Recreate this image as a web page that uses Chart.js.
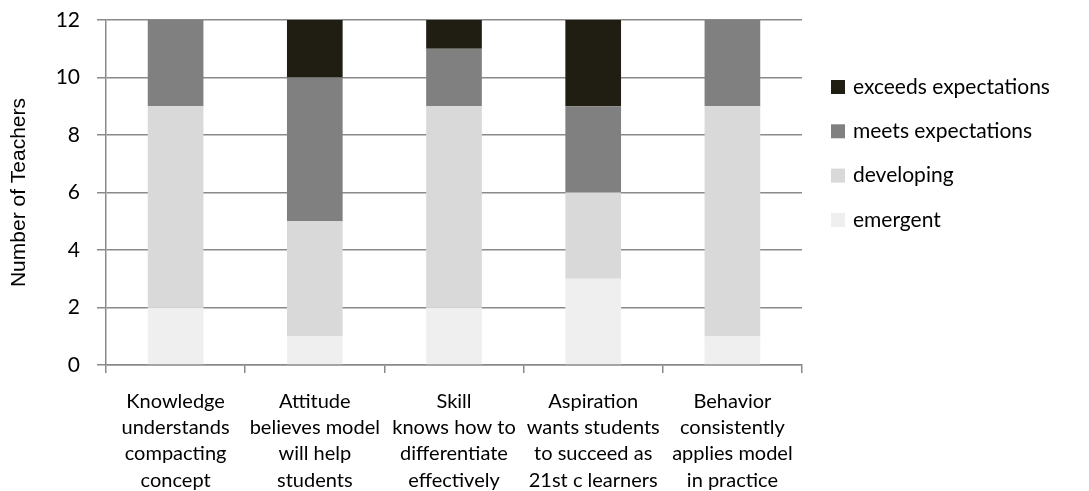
<!DOCTYPE html>
<html>
<head>
<meta charset="utf-8">
<script src="https://cdn.jsdelivr.net/npm/chart.js@4.4.0/dist/chart.umd.min.js"></script>
<style>
  html, body { margin: 0; padding: 0; background: #fff; }
  #wrap { width: 1089px; height: 491px; position: relative; }
</style>
</head>
<body>
<div id="wrap"><canvas id="teacherChart"></canvas></div>
<script>
/* ------------------------------------------------------------------ */
/*  Data                                                              */
/* ------------------------------------------------------------------ */

var CATEGORIES = [
  ['Knowledge', 'understands', 'compacting', 'concept'],
  ['Attitude', 'believes model', 'will help', 'students'],
  ['Skill', 'knows how to', 'differentiate', 'effectively'],
  ['Aspiration', 'wants students', 'to succeed as', '21st c learners'],
  ['Behavior', 'consistently', 'applies model', 'in practice'],
];

var EMERGENT   = [2, 1, 2, 3, 1];
var DEVELOPING = [7, 4, 7, 3, 8];
var MEETS      = [3, 5, 2, 3, 3];
var EXCEEDS    = [0, 2, 1, 3, 0];

var SERIES_NAMES  = ['emergent', 'developing', 'meets expectations', 'exceeds expectations'];
var SERIES_COLORS = ['#efefef', '#d9d9d9', '#808080', '#201e12'];

var Y_MIN = 0;
var Y_MAX = 12;
var Y_STEP = 2;

/* ------------------------------------------------------------------ */
/*  Styling                                                           */
/* ------------------------------------------------------------------ */

var LABEL_FONT = 'Lato, "Open Sans", sans-serif';
var GRID_COLOR = '#8a8a8a';

/* Legend drawn at the right, top entry first (reverse of stack order). */
var legendPlugin = {
  id: 'sideLegend',
  afterDraw: function (chart) {
    var ctx = chart.ctx;
    var sets = chart.data.datasets.slice().reverse();
    ctx.save();
    ctx.font = '21px ' + LABEL_FONT;
    ctx.textBaseline = 'middle';
    ctx.textAlign = 'left';
    sets.forEach(function (ds, i) {
      var y = 87 + i * 44.3;
      ctx.fillStyle = ds.backgroundColor;
      ctx.fillRect(831, y - 7, 14, 14);
      ctx.fillStyle = '#000';
      ctx.fillText(ds.label, 853, y);
    });
    ctx.restore();
  },
};

var datasets = [EMERGENT, DEVELOPING, MEETS, EXCEEDS].map(function (values, i) {
  return {
    label: SERIES_NAMES[i],
    data: values,
    backgroundColor: SERIES_COLORS[i],
    borderWidth: 0,
    barPercentage: 0.4,
    categoryPercentage: 1.0,
  };
});

new Chart(document.getElementById('teacherChart').getContext('2d'), {
  type: 'bar',
  data: { labels: CATEGORIES, datasets: datasets },
  plugins: [legendPlugin],
  options: {
    responsive: true,
    maintainAspectRatio: false,
    animation: false,
    layout: { padding: { top: 20, right: 287, left: 0, bottom: 0 } },
    plugins: {
      legend: { display: false },
      tooltip: { enabled: false },
    },
    scales: {
      x: {
        stacked: true,
        afterFit: function (scale) { scale.height = 126; },
        grid: {
          drawOnChartArea: false,
          drawTicks: true,
          tickLength: 8,
          color: GRID_COLOR,
          lineWidth: 1.5,
          offset: true,
        },
        border: { color: GRID_COLOR, width: 1.5 },
        ticks: {
          color: '#000',
          padding: 15,
          maxRotation: 0,
          autoSkip: false,
          font: { family: LABEL_FONT, size: 20, lineHeight: 1.32 },
        },
      },
      y: {
        stacked: true,
        min: Y_MIN,
        max: Y_MAX,
        afterFit: function (scale) {
          scale.width = 106;
          scale.paddingTop = 12;
        },
        grid: {
          color: GRID_COLOR,
          lineWidth: 1.5,
          drawTicks: true,
          tickLength: 9,
        },
        border: { color: GRID_COLOR, width: 1.5 },
        ticks: {
          stepSize: Y_STEP,
          color: '#000',
          padding: 17,
          font: { family: LABEL_FONT, size: 21 },
        },
        title: {
          display: true,
          text: 'Number of Teachers',
          color: '#000',
          padding: { top: 7, bottom: 0 },
          font: { family: '"Liberation Sans", Arial, sans-serif', size: 21, lineHeight: 1.2 },
        },
      },
    },
  },
});
</script>
</body>
</html>
